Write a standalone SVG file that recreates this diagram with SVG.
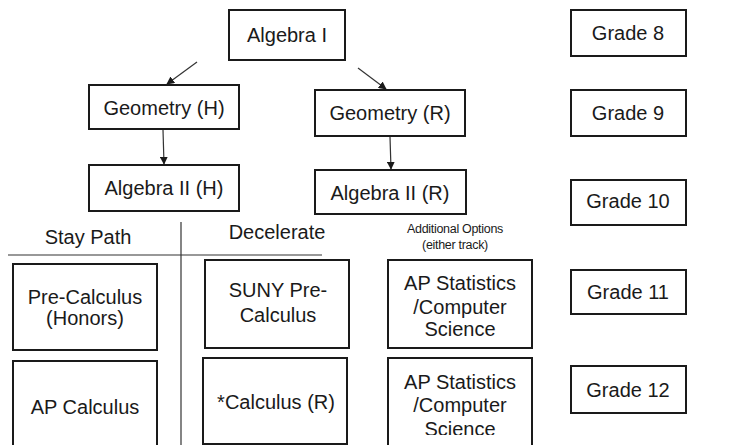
<svg xmlns="http://www.w3.org/2000/svg" width="729" height="445" viewBox="0 0 729 445">
<style>
.box{fill:#fff;stroke:#1a1a1a;stroke-width:2}
.t{font-family:"Liberation Sans",Arial,sans-serif;font-size:20px;fill:#1a1a1a;text-anchor:middle}
.s{font-family:"Liberation Sans",Arial,sans-serif;font-size:12.5px;fill:#1a1a1a;text-anchor:middle;letter-spacing:-0.3px}
.ln{stroke:#333;stroke-width:1.2;fill:none}
</style>
<defs>
<marker id="ah" viewBox="0 0 10 10" refX="9" refY="5" markerWidth="8" markerHeight="8" markerUnits="userSpaceOnUse" orient="auto">
<path d="M0,0 L10,5 L0,10 z" fill="#1a1a1a"/>
</marker>
<clipPath id="clip2"><rect x="388" y="358" width="146" height="77"/></clipPath>
</defs>
<rect width="729" height="445" fill="#fff"/>
<g id="connectors">
<line class="ln" x1="197" y1="62" x2="167" y2="84" marker-end="url(#ah)"/>
<line class="ln" x1="358" y1="68" x2="386" y2="89" marker-end="url(#ah)"/>
<line class="ln" x1="163" y1="130" x2="164" y2="164" marker-end="url(#ah)"/>
<line class="ln" x1="390" y1="137" x2="391" y2="169" marker-end="url(#ah)"/>
<line class="ln" x1="8" y1="255" x2="322" y2="255"/>
<line class="ln" x1="181" y1="222" x2="181" y2="445"/>
</g>
<g id="algebra1"><rect class="box" x="229" y="10" width="116" height="50"/><text class="t" x="287" y="42">Algebra I</text></g>
<g id="geometryH"><rect class="box" x="89" y="85" width="150" height="44"/><text class="t" x="164" y="115">Geometry (H)</text></g>
<g id="algebra2H"><rect class="box" x="89" y="165" width="150" height="46"/><text class="t" x="164" y="195">Algebra II (H)</text></g>
<g id="geometryR"><rect class="box" x="315" y="90" width="150" height="46"/><text class="t" x="390" y="120">Geometry (R)</text></g>
<g id="algebra2R"><rect class="box" x="315" y="170" width="151" height="44"/><text class="t" x="390" y="200">Algebra II (R)</text></g>
<g id="grade8"><rect class="box" x="571" y="10" width="115" height="46"/><text class="t" x="628" y="40">Grade 8</text></g>
<g id="grade9"><rect class="box" x="571" y="90" width="115" height="46"/><text class="t" x="628" y="120">Grade 9</text></g>
<g id="grade10"><rect class="box" x="571" y="180" width="115" height="45"/><text class="t" x="628" y="208">Grade 10</text></g>
<g id="grade11"><rect class="box" x="571" y="270" width="115" height="44"/><text class="t" x="628" y="299">Grade 11</text></g>
<g id="grade12"><rect class="box" x="571" y="366" width="115" height="47"/><text class="t" x="628" y="397">Grade 12</text></g>
<g id="stayPath"><text class="t" x="88" y="244">Stay Path</text></g>
<g id="decelerate"><text class="t" x="277" y="239">Decelerate</text></g>
<g id="additional"><text class="s" x="455" y="233">Additional Options</text><text class="s" x="455" y="249">(either track)</text></g>
<g id="precalcH"><rect class="box" x="13" y="264" width="144" height="86"/><text class="t" x="85" y="304">Pre-Calculus</text><text class="t" x="85" y="325">(Honors)</text></g>
<g id="apCalc"><rect class="box" x="13" y="361" width="144" height="90"/><text class="t" x="85" y="414">AP Calculus</text></g>
<g id="sunyPrecalc"><rect class="box" x="205" y="260" width="144" height="88"/><text class="t" x="278" y="297">SUNY Pre-</text><text class="t" x="278" y="322">Calculus</text></g>
<g id="calcR"><rect class="box" x="203" y="358" width="144" height="86"/><text class="t" x="276" y="409">*Calculus (R)</text></g>
<g id="apStat11"><rect class="box" x="388" y="260" width="144" height="88"/><text class="t" x="460" y="290">AP Statistics</text><text class="t" x="460" y="314">/Computer</text><text class="t" x="460" y="336">Science</text></g>
<g id="apStat12"><rect class="box" x="388" y="358" width="144" height="92"/><g clip-path="url(#clip2)"><text class="t" x="460" y="389">AP Statistics</text><text class="t" x="460" y="412">/Computer</text><text class="t" x="460" y="436">Science</text></g></g>
</svg>
